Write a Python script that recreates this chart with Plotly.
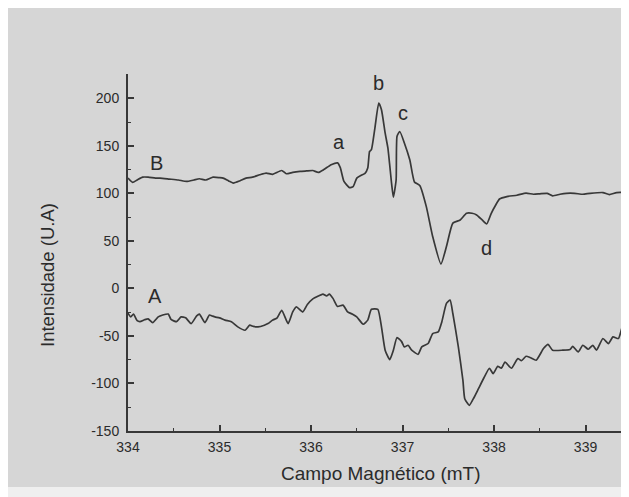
import plotly.graph_objects as go

# Curve B (upper spectrum)
b_field = [334.00, 334.05, 334.10, 334.16, 334.22, 334.30, 334.35, 334.45, 334.55, 334.64,
           334.72, 334.78, 334.85, 334.93, 335.00, 335.04, 335.10, 335.15, 335.22, 335.29,
           335.36, 335.44, 335.51, 335.58, 335.68, 335.73, 335.80, 335.88, 335.95, 336.02,
           336.08, 336.14, 336.22, 336.29, 336.32, 336.36, 336.42, 336.46, 336.50, 336.55,
           336.59, 336.62, 336.64, 336.66, 336.70, 336.74, 336.77, 336.81, 336.84, 336.88,
           336.90, 336.93, 336.94, 336.97, 337.02, 337.08, 337.13, 337.19, 337.26, 337.33,
           337.42, 337.48, 337.55, 337.63, 337.70, 337.76, 337.81, 337.87, 337.92, 337.97,
           338.02, 338.06, 338.14, 338.25, 338.35, 338.43, 338.50, 338.58, 338.64, 338.72,
           338.79, 338.88, 338.97, 339.05, 339.19, 339.26, 339.34, 339.46]
b_int = [116, 111.5, 114, 117, 117, 116, 116, 115, 114, 112.5,
         114, 115.3, 114, 117, 116.5, 116, 113, 110.8, 113, 116,
         117, 119.5, 121.3, 120, 124, 120.6, 122, 123, 123.5, 124,
         122, 125, 130, 132, 127, 112.5, 106, 107, 116, 119,
         121, 126.6, 144, 146, 170, 195, 188, 163.5, 147.7, 110.8,
         96, 114, 160, 165, 153, 135, 112, 108, 86, 54.4,
         25.6, 44, 68.6, 72, 79, 79, 77.3, 72, 67.8, 79,
         88, 94, 96.6, 98, 100.2, 99, 99.5, 100, 97.4, 99,
         100, 100, 99, 100, 100.8, 98.7, 100.8, 100.8]

# Curve A (lower spectrum)
a_field = [334.00, 334.03, 334.06, 334.10, 334.13, 334.18, 334.22, 334.27, 334.33, 334.38,
           334.44, 334.47, 334.53, 334.58, 334.63, 334.69, 334.75, 334.78, 334.84, 334.89,
           334.92, 334.95, 335.00, 335.06, 335.13, 335.20, 335.28, 335.33, 335.37, 335.42,
           335.49, 335.53, 335.58, 335.63, 335.68, 335.75, 335.80, 335.84, 335.91, 335.96,
           336.02, 336.08, 336.13, 336.17, 336.20, 336.24, 336.29, 336.35, 336.40, 336.45,
           336.50, 336.57, 336.62, 336.66, 336.73, 336.77, 336.81, 336.86, 336.90, 336.94,
           336.99, 337.02, 337.06, 337.10, 337.17, 337.21, 337.28, 337.33, 337.39, 337.43,
           337.48, 337.52, 337.55, 337.61, 337.66, 337.68, 337.73, 337.78, 337.83, 337.89,
           337.95, 337.99, 338.04, 338.08, 338.12, 338.19, 338.26, 338.30, 338.35, 338.40,
           338.46, 338.54, 338.59, 338.64, 338.75, 338.83, 338.86, 338.92, 338.97, 339.03,
           339.08, 339.12, 339.19, 339.25, 339.30, 339.36, 339.41, 339.45, 339.47]
a_int = [-26, -30, -27, -34, -35, -33, -32, -36, -30, -28,
         -27, -32.7, -35, -30, -31, -37, -29, -27, -36, -28,
         -29, -30, -31, -33.4, -35, -40.5, -44, -38.7, -40, -40.5,
         -38.7, -37, -33.4, -31, -23, -37, -24.7, -19.4, -24.7, -17,
         -11, -8, -6, -8, -6, -10.5, -19, -17.6, -24.7, -27,
         -30, -37.7, -33.4, -22, -22, -40.5, -65, -75, -65, -51.7,
         -56, -61.6, -59.8, -65, -69.3, -61.6, -58, -47.5, -45.8, -35,
         -15.8, -12.3, -26.4, -61.6, -96.7, -116, -123, -115, -105.5, -94,
         -84, -89.7, -82, -84, -77.4, -84, -73.8, -76, -71.4, -73,
         -75.6, -63.3, -58.8, -65, -65, -64.3, -60.9, -66.9, -59.8, -64,
         -59.8, -65, -52.7, -58, -51, -52.7, -38.7, -40.5, -43]

x_ticks = [334, 335, 336, 337, 338, 339]
y_ticks = [-150, -100, -50, 0, 50, 100, 150, 200]

labels = ["B", "A", "a", "b", "c", "d"]
label_x = [334.31, 334.30, 336.31, 336.74, 337.00, 337.92]
label_y = [132, -8, 154, 216, 184, 42]

LINE = "#383838"
TXT = "#2b2b2b"
BG = "#d6d6d6"
FONT = "Liberation Sans, Arial, sans-serif"

# figure is drawn 8px in from the page's top-left corner (page body margin)
W, H = 621, 489
L, T, B = 120, 66, 66
PW, PH = W - L, H - T - B

fig = go.Figure()
for xs, ys in [(b_field, b_int), (a_field, a_int)]:
    fig.add_trace(go.Scatter(x=xs, y=ys, mode="lines",
                             line=dict(color=LINE, width=1.7, shape="spline", smoothing=0.5),
                             showlegend=False, hoverinfo="skip"))

for t, lx, ly in zip(labels, label_x, label_y):
    fig.add_annotation(x=lx, y=ly, text=t, showarrow=False,
                       xanchor="center", yanchor="middle",
                       font=dict(family=FONT, size=20, color=TXT))

fig.add_annotation(xref="paper", yref="paper", x=(373 - L) / PW, y=(T + PH - 465) / PH,
                   xanchor="center", yanchor="middle",
                   text="Campo Magnético (mT)", showarrow=False,
                   font=dict(family=FONT, size=19, color=TXT))
fig.add_annotation(xref="paper", yref="paper", x=(39 - L) / PW, y=(T + PH - 267) / PH,
                   xanchor="center", yanchor="middle",
                   text="Intensidade (U.A)", showarrow=False, textangle=-90,
                   font=dict(family=FONT, size=18.5, color=TXT))

# light strip at the bottom of the scanned page
fig.add_shape(type="rect", xref="paper", yref="paper", layer="below",
              x0=-L / PW, x1=1.01, y0=-(B + 2) / PH, y1=(T + PH - 479) / PH,
              fillcolor="#efefef", line=dict(width=0))

axis_common = dict(showgrid=False, zeroline=False, showline=True, linecolor=LINE,
                   linewidth=2, ticks="inside", tickcolor=LINE, tickwidth=1.5, ticklen=6,
                   tickfont=dict(family=FONT, size=14, color=TXT))

fig.update_layout(
    width=W, height=H,
    margin=dict(l=L, r=0, t=T, b=B),
    paper_bgcolor=BG, plot_bgcolor=BG,
    xaxis=dict(range=[334, 339.475], tickvals=x_ticks, ticktext=[str(v) for v in x_ticks],
               minor=dict(ticks="inside", tickvals=[334.5, 335.5, 336.5, 337.5, 338.5, 339.5],
                          ticklen=3, tickcolor=LINE, tickwidth=1),
               ticklabelstandoff=2, **axis_common),
    yaxis=dict(range=[-150, 225.5], tickvals=y_ticks, ticktext=[str(v) for v in y_ticks],
               minor=dict(ticks="inside", tickvals=[-125, -75, -25, 25, 75, 125, 175, 225],
                          ticklen=3, tickcolor=LINE, tickwidth=1),
               ticklabelstandoff=4, **axis_common),
)

fig.write_html("out.html")
